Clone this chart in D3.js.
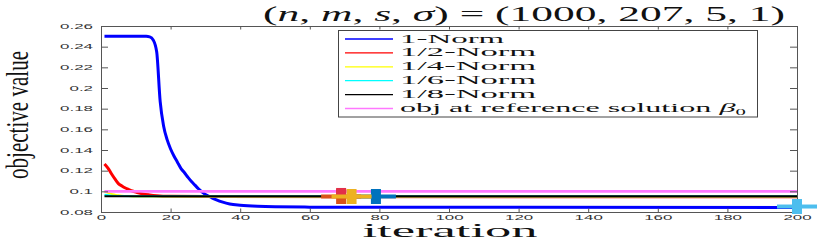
<!DOCTYPE html>
<html>
<head>
<meta charset="utf-8">
<script src="https://cdn.jsdelivr.net/npm/d3@7/dist/d3.min.js"></script>
<style>
  body { margin: 0; background: #fff; }
  svg { display: block; }
  .tick text { font-family: "Liberation Sans", sans-serif; font-size: 6.5px; fill: #333; }
  .axis path, .axis line { stroke: #555; stroke-width: 1; }
  .serif { font-family: "Liberation Serif", serif; fill: #111; }
</style>
</head>
<body>
<script>
var width = 831,
    height = 243;

var margin = {top: 26, right: 34, bottom: 31, left: 101};

// values
var xTicks = [0, 20, 40, 60, 80, 100, 120, 140, 160, 180, 200];
var yTicks = [0.08, 0.1, 0.12, 0.14, 0.16, 0.18, 0.2, 0.22, 0.24, 0.26];

var legendNames = ["1-Norm", "1/2-Norm", "1/4-Norm", "1/6-Norm", "1/8-Norm", "obj at reference solution "];
var lineColors = ["#0000ff", "#ff0000", "#ffff00", "#00ffff", "#000000", "#ff77ff"];

var norm1Iter = [1, 13, 14, 15, 16, 17, 18, 19, 20, 21, 22, 23, 24, 25, 26, 27, 28, 29, 30, 31, 32, 33, 35, 37, 40, 45, 50, 60, 80, 120, 200];
var norm1Val  = [0.25, 0.25, 0.2495, 0.2465, 0.235, 0.187, 0.163, 0.150, 0.141, 0.134, 0.128, 0.122, 0.118, 0.1135, 0.1095, 0.106, 0.1025, 0.0995, 0.097, 0.0952, 0.0935, 0.092, 0.0895, 0.0878, 0.0866, 0.0855, 0.085, 0.0847, 0.0845, 0.0845, 0.0844];

var norm2Iter = [1, 2, 3, 4, 5, 6, 7, 8, 9, 10, 11, 12, 14, 16, 20, 30, 200];
var norm2Val  = [0.1265, 0.1225, 0.117, 0.112, 0.1075, 0.1052, 0.1032, 0.1017, 0.1003, 0.0992, 0.0983, 0.0975, 0.0965, 0.0958, 0.0952, 0.0949, 0.0948];

var norm4Iter = [1, 2, 3, 4, 5, 6, 8, 10, 14, 200];
var norm4Val  = [0.0998, 0.0985, 0.0975, 0.0968, 0.0962, 0.0958, 0.0954, 0.0951, 0.095, 0.095];

var norm6Iter = [1, 3, 6, 10, 200];
var norm6Val  = [0.0966, 0.0958, 0.0954, 0.0953, 0.0953];

var norm8Iter = [1, 200];
var norm8Val  = [0.0952, 0.0952];

var refIter = [1, 200];
var refVal  = [0.1, 0.1];

var markerIter   = [79, 69, 69, 72, 200];
var markerVal    = [0.095, 0.095, 0.0989, 0.095, 0.0853];
var markerColors = ["#0072bd", "#d95319", "#e2304a", "#edb120", "#4dbeee"];

var seriesIter = [norm1Iter, norm2Iter, norm4Iter, norm6Iter, norm8Iter, refIter];
var seriesVal  = [norm1Val, norm2Val, norm4Val, norm6Val, norm8Val, refVal];
var lineWidths = [3, 3, 2, 2, 2, 2.6];

var x = d3.scaleLinear()
  .domain([0, 200])
  .range([margin.left, width - margin.right]);

var y = d3.scaleLinear()
  .domain([0.08, 0.26])
  .range([height - margin.bottom, margin.top]);

var svg = d3.select("body").append("svg")
  .attr("width", width)
  .attr("height", height);

var line = d3.line()
  .x(function(d) { return x(d[0]); })
  .y(function(d) { return y(d[1]); })
  .curve(d3.curveMonotoneX);

svg.append("g")
  .selectAll("path")
  .data(seriesIter.map(function(it, i) { return d3.zip(it, seriesVal[i]); }))
  .enter().append("path")
    .attr("fill", "none")
    .attr("stroke", function(d, i) { return lineColors[i]; })
    .attr("stroke-width", function(d, i) { return lineWidths[i]; })
    .attr("stroke-linejoin", "round")
    .attr("d", line);

// axes (box with inside ticks)
var gx = svg.append("g").attr("class", "axis")
  .attr("transform", "translate(0," + y.range()[0] + ")")
  .call(d3.axisBottom(x).tickValues(xTicks).tickSizeInner(-3.5).tickSizeOuter(0).tickPadding(3));
gx.selectAll(".tick line").attr("stroke", "#999");

var gy = svg.append("g").attr("class", "axis")
  .attr("transform", "translate(" + x.range()[0] + ",0)")
  .call(d3.axisLeft(y).tickValues(yTicks).tickFormat(d3.format("~g")).tickSizeInner(-7).tickSizeOuter(0).tickPadding(8));
gy.selectAll(".tick line").attr("stroke", "#999");

svg.append("g").attr("class", "axis")
  .attr("transform", "translate(0," + y.range()[1] + ")")
  .call(d3.axisTop(x).tickValues(xTicks).tickSizeInner(-3.5).tickSizeOuter(0).tickFormat(""))
  .selectAll(".tick line").attr("stroke", "#999");

svg.append("g").attr("class", "axis")
  .attr("transform", "translate(" + x.range()[1] + ",0)")
  .call(d3.axisRight(y).tickValues(yTicks).tickSizeInner(-7).tickSizeOuter(0).tickFormat(""))
  .selectAll(".tick line").attr("stroke", "#999");

// the picture is stretched sideways, so stretch the horizontal texts too
svg.selectAll(".tick text").each(function() {
  var t = d3.select(this);
  if (t.text() === "") return;
  t.attr("textLength", this.getComputedTextLength() * 2.6).attr("lengthAdjust", "spacingAndGlyphs");
});

// markers
var mk = svg.append("g")
  .selectAll("g")
  .data(markerIter.map(function(it, i) { return [it, markerVal[i], markerColors[i]]; }))
  .enter().append("g")
    .attr("transform", function(d) { return "translate(" + x(d[0]) + "," + y(d[1]) + ")"; })
    .attr("fill", function(d) { return d[2]; });
mk.filter(function(d, i) { return i !== 2; }).append("rect")
  .attr("x", -20).attr("y", -2).attr("width", 40).attr("height", 4);
mk.append("rect")
  .attr("x", -5)
  .attr("y", function(d, i) { return i === 2 ? -4.5 : -7.5; })
  .attr("width", 10)
  .attr("height", function(d, i) { return i === 2 ? 9 : 15; });

// legend
var legend = svg.append("g");
legend.append("rect")
  .attr("x", 338.5).attr("y", 30.5)
  .attr("width", 419).attr("height", 86.5)
  .attr("fill", "#fff").attr("stroke", "#444").attr("stroke-width", 1);

var legendLen = [105, 137, 137, 137, 137];
legendNames.forEach(function(name, i) {
  var yy = 42.5 + i * 13.9;
  legend.append("line")
    .attr("x1", 345).attr("x2", 393)
    .attr("y1", yy - 3.5).attr("y2", yy - 3.5)
    .attr("stroke", lineColors[i]).attr("stroke-width", 1.3);
  var t = legend.append("text")
    .attr("class", "serif")
    .attr("font-size", 12.5)
    .attr("x", 0)
    .text(name);
  if (i === legendNames.length - 1) {
    t.append("tspan").attr("font-style", "italic").text("\u03b2");
    t.append("tspan").attr("font-size", 8).attr("dy", 2.5).text("0");
  }
  var w = t.node().getBBox().width;
  var target = i < legendLen.length ? legendLen[i] : 346;
  t.attr("transform", "translate(400," + yy + ") scale(" + (target / w) + ",1)");
});

// title
var title = svg.append("text")
  .attr("class", "serif")
  .attr("font-size", 22)
  .attr("x", 0);
var titleParts = [["(", ""], ["n", "italic"], [", ", ""], ["m", "italic"], [", ", ""], ["s", "italic"], [", ", ""], ["\u03c3", "italic"], [") = (1000, 207, 5, 1)", ""]];
titleParts.forEach(function(p) {
  title.append("tspan").attr("font-style", p[1] || null).attr("xml:space", "preserve").text(p[0]);
});
var tw = title.node().getBBox().width;
title.attr("transform", "translate(263,20.5) scale(" + (522 / tw) + ",1)");

// axis labels
svg.append("text")
  .attr("class", "serif")
  .attr("font-size", 19)
  .attr("text-anchor", "middle")
  .attr("x", 450).attr("y", 237)
  .attr("textLength", 175).attr("lengthAdjust", "spacingAndGlyphs")
  .text("iteration");

svg.append("text")
  .attr("class", "serif")
  .attr("font-size", 21)
  .attr("text-anchor", "middle")
  .attr("transform", "translate(28,115) rotate(-90) scale(1,1.5)")
  .attr("textLength", 128).attr("lengthAdjust", "spacingAndGlyphs")
  .text("objective value");
</script>
</body>
</html>
